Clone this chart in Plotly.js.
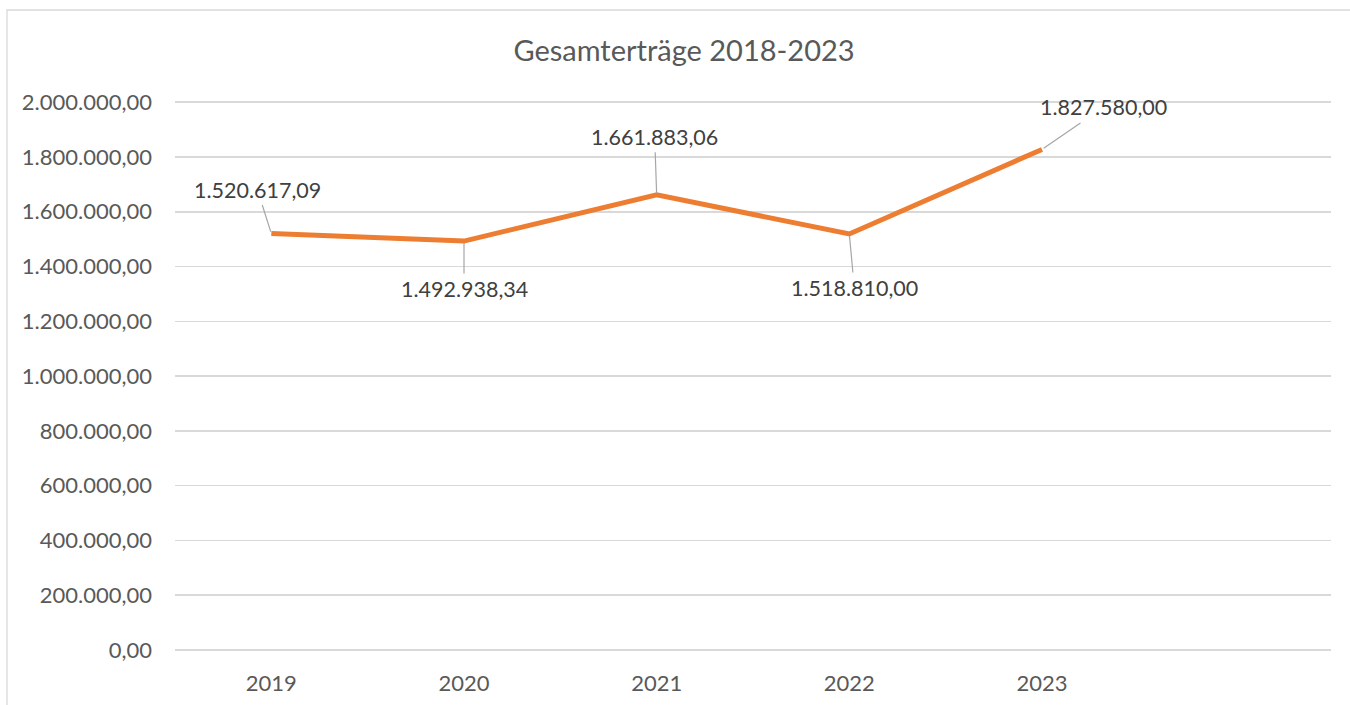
<!DOCTYPE html>
<html>
<head>
<meta charset="utf-8">
<script src="https://cdn.plot.ly/plotly-3.0.1.min.js"></script>
<style>
  html, body { margin: 0; padding: 0; background: #fff; }
  #chart { width: 1350px; height: 705px; }
</style>
</head>
<body>
<div id="chart"></div>
<script>
// Gesamterträge je Jahr
const years = ["2019", "2020", "2021", "2022", "2023", ""];
const ertraege = [1520617.09, 1492938.34, 1661883.06, 1518810.0, 1827580.0];
const yTicks = [0, 200000, 400000, 600000, 800000, 1000000, 1200000, 1400000, 1600000, 1800000, 2000000];

// Position der Datenbeschriftungen (Versatz in px)
const labelOffsets = [
  { ax: -14, ay: -44 },
  { ax: 0, ay: 48 },
  { ax: -2, ay: -58 },
  { ax: 5, ay: 54 },
  { ax: 61, ay: -42 },
];

const textColor = "#595959";
const fontFamily = "Lato, 'Open Sans', sans-serif";

function formatDe(v) {
  const [ganz, dez] = v.toFixed(2).split(".");
  return ganz.replace(/\B(?=(\d{3})+(?!\d))/g, ".") + "," + dez;
}

const xIdx = ertraege.map((_, i) => i);

const trace = {
  type: "scatter",
  mode: "lines",
  x: xIdx,
  y: ertraege,
  line: { color: "#ED7D31", width: 5 },
  hoverinfo: "skip",
};

const annotations = ertraege.map((v, i) => ({
  x: i,
  y: v,
  xref: "x",
  yref: "y",
  text: formatDe(v),
  showarrow: true,
  arrowhead: 0,
  arrowwidth: 1.2,
  arrowcolor: "#a6a6a6",
  ax: labelOffsets[i].ax,
  ay: labelOffsets[i].ay,
  standoff: 2,
  borderpad: 2,
  font: { family: fontFamily, size: 21.5, color: "#404040" },
}));

// etwas Luft über 2 Mio., damit die oberste Gitterlinie gezeichnet wird
const yMax = 2008000;
const plotL = 175, plotR = 19, plotT = 100, plotB = 55;
const plotW = 1350 - plotL - plotR;
const plotH = 705 - plotT - plotB;

const layout = {
  width: 1350,
  height: 705,
  paper_bgcolor: "#fff",
  plot_bgcolor: "#fff",
  margin: { l: plotL, r: plotR, t: plotT, b: plotB },
  showlegend: false,
  title: {
    text: "Gesamterträge 2018-2023",
    x: 684 / 1350,
    xanchor: "center",
    y: 1 - 51 / 705,
    yanchor: "middle",
    font: { family: fontFamily, size: 29, color: textColor },
  },
  xaxis: {
    range: [-0.5, years.length - 0.5],
    tickvals: years.map((_, i) => i),
    ticktext: years,
    showgrid: false,
    zeroline: false,
    showline: false,
    ticks: "",
    ticklabelstandoff: 18,
    tickfont: { family: fontFamily, size: 22, color: textColor },
    fixedrange: true,
  },
  yaxis: {
    range: [0, yMax],
    tickvals: yTicks,
    ticktext: yTicks.map(formatDe),
    showgrid: true,
    gridcolor: "#d9d9d9",
    gridwidth: 1.6,
    zeroline: true,
    zerolinecolor: "#d9d9d9",
    zerolinewidth: 1.6,
    showline: false,
    ticks: "",
    ticklabelstandoff: 22,
    tickfont: { family: fontFamily, size: 22, color: textColor },
    fixedrange: true,
  },
  annotations,
  shapes: [
    {
      type: "rect",
      xref: "paper",
      yref: "paper",
      x0: (7 - plotL) / plotW,
      x1: (1400 - plotL) / plotW,
      y0: -200 / plotH,
      y1: (705 - plotB - 10) / plotH,
      line: { color: "#d9d9d9", width: 1.3 },
      fillcolor: "rgba(0,0,0,0)",
      layer: "below",
    },
  ],
};

Plotly.newPlot("chart", [trace], layout, {
  displayModeBar: false,
  staticPlot: true,
});
</script>
</body>
</html>
